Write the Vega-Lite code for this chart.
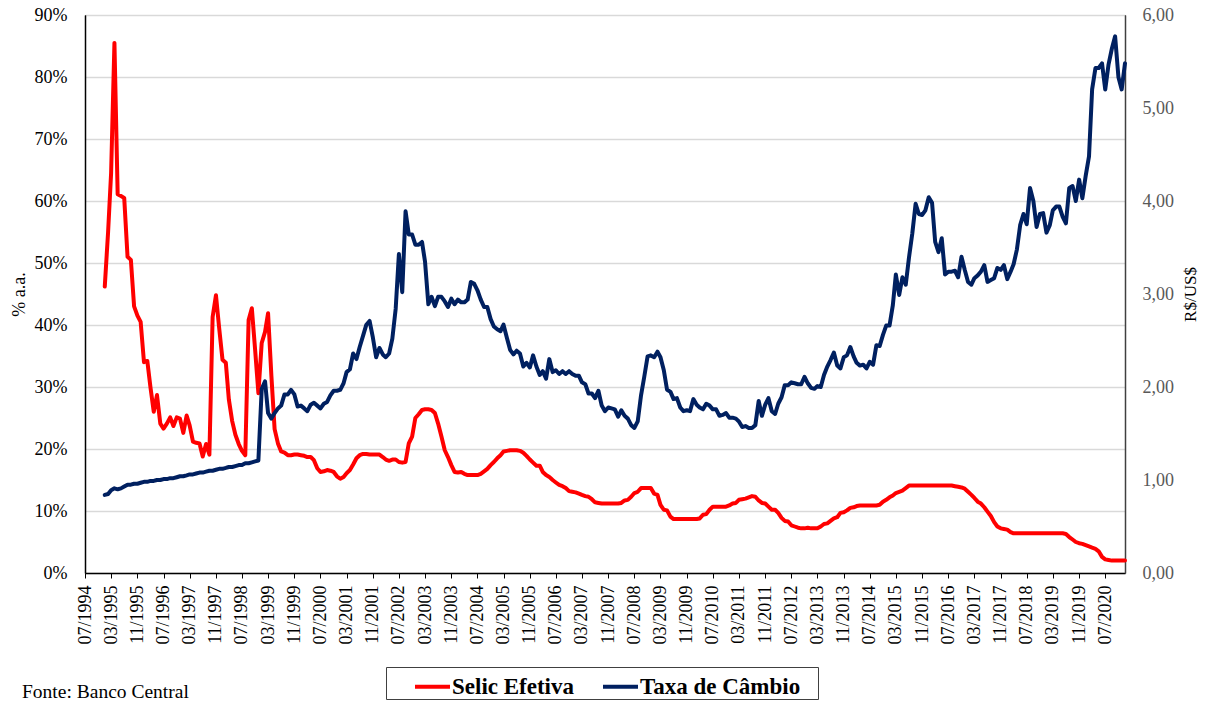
{
  "$schema": "https://vega.github.io/schema/vega-lite/v6.json",
  "autosize": {"type": "none"},
  "width": 1040,
  "height": 558,
  "padding": {"left": 85, "top": 15, "right": 84, "bottom": 131},
  "background": "#ffffff",
  "title": {"text": "Fonte: Banco Central", "orient": "bottom", "anchor": "start", "dx": 12, "offset": -17, "font": "Liberation Serif", "fontSize": 19.5, "fontWeight": "normal", "color": "#000000"},
  "config": {
    "view": {"stroke": "#000000", "strokeWidth": 1},
    "font": "Liberation Serif"
  },
  "data": {"values": [
{"d":"1995-01-01","s":46.2,"c":0.84},{"d":"1995-02-01","s":55,"c":0.85},{"d":"1995-03-01","s":64.5,"c":0.89},{"d":"1995-04-01","s":85.5,"c":0.91},{"d":"1995-05-01","s":61.1,"c":0.90},{"d":"1995-06-01","s":60.8,"c":0.91},{"d":"1995-07-01","s":60.5,"c":0.93},{"d":"1995-08-01","s":51,"c":0.95},{"d":"1995-09-01","s":50.5,"c":0.95},{"d":"1995-10-01","s":43,"c":0.96},{"d":"1995-11-01","s":41.5,"c":0.96},{"d":"1995-12-01","s":40.5,"c":0.97},
{"d":"1996-01-01","s":34,"c":0.98},{"d":"1996-02-01","s":34.2,"c":0.98},{"d":"1996-03-01","s":30,"c":0.99},{"d":"1996-04-01","s":26,"c":0.99},{"d":"1996-05-01","s":28.7,"c":1.00},{"d":"1996-06-01","s":24.1,"c":1.00},{"d":"1996-07-01","s":23.3,"c":1.01},{"d":"1996-08-01","s":24.1,"c":1.01},{"d":"1996-09-01","s":25.1,"c":1.02},{"d":"1996-10-01","s":23.7,"c":1.02},{"d":"1996-11-01","s":25.1,"c":1.03},{"d":"1996-12-01","s":24.9,"c":1.04},
{"d":"1997-01-01","s":22.6,"c":1.04},{"d":"1997-02-01","s":25.4,"c":1.05},{"d":"1997-03-01","s":23.8,"c":1.06},{"d":"1997-04-01","s":21.2,"c":1.06},{"d":"1997-05-01","s":21,"c":1.07},{"d":"1997-06-01","s":20.9,"c":1.08},{"d":"1997-07-01","s":18.8,"c":1.08},{"d":"1997-08-01","s":20.8,"c":1.09},{"d":"1997-09-01","s":19.1,"c":1.10},{"d":"1997-10-01","s":41.3,"c":1.10},{"d":"1997-11-01","s":44.8,"c":1.11},{"d":"1997-12-01","s":39.5,"c":1.12},
{"d":"1998-01-01","s":34.4,"c":1.12},{"d":"1998-02-01","s":33.9,"c":1.13},{"d":"1998-03-01","s":28,"c":1.14},{"d":"1998-04-01","s":24.5,"c":1.14},{"d":"1998-05-01","s":22.3,"c":1.15},{"d":"1998-06-01","s":20.8,"c":1.16},{"d":"1998-07-01","s":19.7,"c":1.16},{"d":"1998-08-01","s":19,"c":1.18},{"d":"1998-09-01","s":40.8,"c":1.18},{"d":"1998-10-01","s":42.7,"c":1.19},{"d":"1998-11-01","s":35.9,"c":1.20},{"d":"1998-12-01","s":29,"c":1.21},
{"d":"1999-01-01","s":37.1,"c":1.98},{"d":"1999-02-01","s":38.9,"c":2.06},{"d":"1999-03-01","s":41.9,"c":1.72},{"d":"1999-04-01","s":31.8,"c":1.66},{"d":"1999-05-01","s":23.2,"c":1.72},{"d":"1999-06-01","s":20.9,"c":1.77},{"d":"1999-07-01","s":19.6,"c":1.80},{"d":"1999-08-01","s":19.4,"c":1.92},{"d":"1999-09-01","s":19,"c":1.92},{"d":"1999-10-01","s":19,"c":1.97},{"d":"1999-11-01","s":19.1,"c":1.92},{"d":"1999-12-01","s":19.1,"c":1.79},
{"d":"2000-01-01","s":19,"c":1.80},{"d":"2000-02-01","s":18.9,"c":1.77},{"d":"2000-03-01","s":18.7,"c":1.74},{"d":"2000-04-01","s":18.7,"c":1.81},{"d":"2000-05-01","s":18.2,"c":1.83},{"d":"2000-06-01","s":16.9,"c":1.80},{"d":"2000-07-01","s":16.3,"c":1.77},{"d":"2000-08-01","s":16.4,"c":1.82},{"d":"2000-09-01","s":16.6,"c":1.84},{"d":"2000-10-01","s":16.5,"c":1.91},{"d":"2000-11-01","s":16.3,"c":1.96},{"d":"2000-12-01","s":15.6,"c":1.96},
{"d":"2001-01-01","s":15.2,"c":1.97},{"d":"2001-02-01","s":15.5,"c":2.04},{"d":"2001-03-01","s":16.1,"c":2.16},{"d":"2001-04-01","s":16.6,"c":2.19},{"d":"2001-05-01","s":17.5,"c":2.36},{"d":"2001-06-01","s":18.5,"c":2.30},{"d":"2001-07-01","s":19,"c":2.43},{"d":"2001-08-01","s":19.2,"c":2.55},{"d":"2001-09-01","s":19.2,"c":2.67},{"d":"2001-10-01","s":19.1,"c":2.71},{"d":"2001-11-01","s":19.1,"c":2.53},{"d":"2001-12-01","s":19.1,"c":2.32},
{"d":"2002-01-01","s":19.1,"c":2.42},{"d":"2002-02-01","s":18.7,"c":2.35},{"d":"2002-03-01","s":18.3,"c":2.32},{"d":"2002-04-01","s":18.1,"c":2.36},{"d":"2002-05-01","s":18.3,"c":2.52},{"d":"2002-06-01","s":18.3,"c":2.84},{"d":"2002-07-01","s":17.9,"c":3.43},{"d":"2002-08-01","s":17.8,"c":3.02},{"d":"2002-09-01","s":17.9,"c":3.89},{"d":"2002-10-01","s":20.9,"c":3.64},{"d":"2002-11-01","s":22,"c":3.64},{"d":"2002-12-01","s":25,"c":3.53},
{"d":"2003-01-01","s":25.6,"c":3.53},{"d":"2003-02-01","s":26.3,"c":3.56},{"d":"2003-03-01","s":26.4,"c":3.35},{"d":"2003-04-01","s":26.4,"c":2.89},{"d":"2003-05-01","s":26.3,"c":2.97},{"d":"2003-06-01","s":25.8,"c":2.87},{"d":"2003-07-01","s":24.1,"c":2.97},{"d":"2003-08-01","s":22,"c":2.97},{"d":"2003-09-01","s":19.8,"c":2.92},{"d":"2003-10-01","s":18.7,"c":2.86},{"d":"2003-11-01","s":17.4,"c":2.95},{"d":"2003-12-01","s":16.3,"c":2.89},
{"d":"2004-01-01","s":16.2,"c":2.94},{"d":"2004-02-01","s":16.3,"c":2.91},{"d":"2004-03-01","s":16,"c":2.91},{"d":"2004-04-01","s":15.8,"c":2.94},{"d":"2004-05-01","s":15.8,"c":3.13},{"d":"2004-06-01","s":15.8,"c":3.11},{"d":"2004-07-01","s":15.8,"c":3.04},{"d":"2004-08-01","s":16,"c":2.94},{"d":"2004-09-01","s":16.4,"c":2.86},{"d":"2004-10-01","s":16.8,"c":2.86},{"d":"2004-11-01","s":17.4,"c":2.73},{"d":"2004-12-01","s":17.9,"c":2.65},
{"d":"2005-01-01","s":18.5,"c":2.62},{"d":"2005-02-01","s":19,"c":2.60},{"d":"2005-03-01","s":19.6,"c":2.67},{"d":"2005-04-01","s":19.7,"c":2.53},{"d":"2005-05-01","s":19.8,"c":2.40},{"d":"2005-06-01","s":19.8,"c":2.35},{"d":"2005-07-01","s":19.8,"c":2.39},{"d":"2005-08-01","s":19.7,"c":2.36},{"d":"2005-09-01","s":19.4,"c":2.22},{"d":"2005-10-01","s":18.9,"c":2.26},{"d":"2005-11-01","s":18.3,"c":2.21},{"d":"2005-12-01","s":17.8,"c":2.34},
{"d":"2006-01-01","s":17.3,"c":2.22},{"d":"2006-02-01","s":17.3,"c":2.13},{"d":"2006-03-01","s":16.3,"c":2.17},{"d":"2006-04-01","s":15.8,"c":2.09},{"d":"2006-05-01","s":15.5,"c":2.30},{"d":"2006-06-01","s":15,"c":2.16},{"d":"2006-07-01","s":14.6,"c":2.18},{"d":"2006-08-01","s":14.2,"c":2.14},{"d":"2006-09-01","s":14,"c":2.17},{"d":"2006-10-01","s":13.7,"c":2.14},{"d":"2006-11-01","s":13.2,"c":2.17},{"d":"2006-12-01","s":13.1,"c":2.14},
{"d":"2007-01-01","s":13,"c":2.12},{"d":"2007-02-01","s":12.8,"c":2.12},{"d":"2007-03-01","s":12.6,"c":2.05},{"d":"2007-04-01","s":12.4,"c":2.03},{"d":"2007-05-01","s":12.3,"c":1.93},{"d":"2007-06-01","s":11.9,"c":1.93},{"d":"2007-07-01","s":11.4,"c":1.88},{"d":"2007-08-01","s":11.3,"c":1.96},{"d":"2007-09-01","s":11.2,"c":1.80},{"d":"2007-10-01","s":11.2,"c":1.74},{"d":"2007-11-01","s":11.2,"c":1.78},{"d":"2007-12-01","s":11.2,"c":1.77},
{"d":"2008-01-01","s":11.2,"c":1.76},{"d":"2008-02-01","s":11.2,"c":1.68},{"d":"2008-03-01","s":11.3,"c":1.75},{"d":"2008-04-01","s":11.7,"c":1.69},{"d":"2008-05-01","s":11.8,"c":1.66},{"d":"2008-06-01","s":12.3,"c":1.59},{"d":"2008-07-01","s":12.9,"c":1.56},{"d":"2008-08-01","s":13.1,"c":1.63},{"d":"2008-09-01","s":13.7,"c":1.91},{"d":"2008-10-01","s":13.7,"c":2.11},{"d":"2008-11-01","s":13.7,"c":2.33},{"d":"2008-12-01","s":13.7,"c":2.34},
{"d":"2009-01-01","s":12.8,"c":2.32},{"d":"2009-02-01","s":12.6,"c":2.38},{"d":"2009-03-01","s":11,"c":2.32},{"d":"2009-04-01","s":10.2,"c":2.18},{"d":"2009-05-01","s":10.1,"c":1.97},{"d":"2009-06-01","s":9.1,"c":1.95},{"d":"2009-07-01","s":8.7,"c":1.87},{"d":"2009-08-01","s":8.7,"c":1.88},{"d":"2009-09-01","s":8.7,"c":1.78},{"d":"2009-10-01","s":8.7,"c":1.74},{"d":"2009-11-01","s":8.7,"c":1.75},{"d":"2009-12-01","s":8.7,"c":1.74},
{"d":"2010-01-01","s":8.7,"c":1.87},{"d":"2010-02-01","s":8.7,"c":1.81},{"d":"2010-03-01","s":8.8,"c":1.78},{"d":"2010-04-01","s":9.4,"c":1.76},{"d":"2010-05-01","s":9.5,"c":1.82},{"d":"2010-06-01","s":10.2,"c":1.80},{"d":"2010-07-01","s":10.7,"c":1.76},{"d":"2010-08-01","s":10.7,"c":1.76},{"d":"2010-09-01","s":10.7,"c":1.69},{"d":"2010-10-01","s":10.7,"c":1.70},{"d":"2010-11-01","s":10.7,"c":1.72},{"d":"2010-12-01","s":10.9,"c":1.67},
{"d":"2011-01-01","s":11.2,"c":1.67},{"d":"2011-02-01","s":11.3,"c":1.66},{"d":"2011-03-01","s":11.8,"c":1.63},{"d":"2011-04-01","s":11.9,"c":1.57},{"d":"2011-05-01","s":12,"c":1.58},{"d":"2011-06-01","s":12.2,"c":1.56},{"d":"2011-07-01","s":12.4,"c":1.56},{"d":"2011-08-01","s":12.3,"c":1.59},{"d":"2011-09-01","s":11.7,"c":1.85},{"d":"2011-10-01","s":11.3,"c":1.69},{"d":"2011-11-01","s":11.2,"c":1.81},{"d":"2011-12-01","s":10.7,"c":1.88},
{"d":"2012-01-01","s":10.2,"c":1.74},{"d":"2012-02-01","s":10.2,"c":1.71},{"d":"2012-03-01","s":9.7,"c":1.82},{"d":"2012-04-01","s":8.9,"c":1.89},{"d":"2012-05-01","s":8.4,"c":2.02},{"d":"2012-06-01","s":8.3,"c":2.02},{"d":"2012-07-01","s":7.7,"c":2.05},{"d":"2012-08-01","s":7.5,"c":2.04},{"d":"2012-09-01","s":7.3,"c":2.03},{"d":"2012-10-01","s":7.2,"c":2.03},{"d":"2012-11-01","s":7.2,"c":2.11},{"d":"2012-12-01","s":7.3,"c":2.04},
{"d":"2013-01-01","s":7.2,"c":1.99},{"d":"2013-02-01","s":7.2,"c":1.98},{"d":"2013-03-01","s":7.2,"c":2.01},{"d":"2013-04-01","s":7.5,"c":2.00},{"d":"2013-05-01","s":7.9,"c":2.13},{"d":"2013-06-01","s":8,"c":2.22},{"d":"2013-07-01","s":8.4,"c":2.29},{"d":"2013-08-01","s":8.8,"c":2.37},{"d":"2013-09-01","s":9,"c":2.23},{"d":"2013-10-01","s":9.7,"c":2.20},{"d":"2013-11-01","s":9.8,"c":2.32},{"d":"2013-12-01","s":10.1,"c":2.34},
{"d":"2014-01-01","s":10.5,"c":2.43},{"d":"2014-02-01","s":10.6,"c":2.33},{"d":"2014-03-01","s":10.8,"c":2.26},{"d":"2014-04-01","s":10.9,"c":2.23},{"d":"2014-05-01","s":10.9,"c":2.24},{"d":"2014-06-01","s":10.9,"c":2.20},{"d":"2014-07-01","s":10.9,"c":2.27},{"d":"2014-08-01","s":10.9,"c":2.24},{"d":"2014-09-01","s":10.9,"c":2.45},{"d":"2014-10-01","s":11,"c":2.44},{"d":"2014-11-01","s":11.5,"c":2.56},{"d":"2014-12-01","s":11.8,"c":2.66},
{"d":"2015-01-01","s":12.2,"c":2.66},{"d":"2015-02-01","s":12.5,"c":2.88},{"d":"2015-03-01","s":12.9,"c":3.21},{"d":"2015-04-01","s":13.1,"c":2.99},{"d":"2015-05-01","s":13.3,"c":3.18},{"d":"2015-06-01","s":13.7,"c":3.10},{"d":"2015-07-01","s":14.1,"c":3.39},{"d":"2015-08-01","s":14.1,"c":3.65},{"d":"2015-09-01","s":14.1,"c":3.97},{"d":"2015-10-01","s":14.1,"c":3.86},{"d":"2015-11-01","s":14.1,"c":3.85},{"d":"2015-12-01","s":14.1,"c":3.90},
{"d":"2016-01-01","s":14.1,"c":4.04},{"d":"2016-02-01","s":14.1,"c":3.98},{"d":"2016-03-01","s":14.1,"c":3.56},{"d":"2016-04-01","s":14.1,"c":3.45},{"d":"2016-05-01","s":14.1,"c":3.60},{"d":"2016-06-01","s":14.1,"c":3.21},{"d":"2016-07-01","s":14.1,"c":3.24},{"d":"2016-08-01","s":14.1,"c":3.24},{"d":"2016-09-01","s":14.0,"c":3.25},{"d":"2016-10-01","s":13.9,"c":3.18},{"d":"2016-11-01","s":13.8,"c":3.40},{"d":"2016-12-01","s":13.6,"c":3.26},
{"d":"2017-01-01","s":13.1,"c":3.13},{"d":"2017-02-01","s":12.6,"c":3.10},{"d":"2017-03-01","s":12.1,"c":3.17},{"d":"2017-04-01","s":11.5,"c":3.20},{"d":"2017-05-01","s":11.2,"c":3.24},{"d":"2017-06-01","s":10.6,"c":3.31},{"d":"2017-07-01","s":9.9,"c":3.13},{"d":"2017-08-01","s":9.2,"c":3.15},{"d":"2017-09-01","s":8.2,"c":3.17},{"d":"2017-10-01","s":7.5,"c":3.28},{"d":"2017-11-01","s":7.2,"c":3.26},{"d":"2017-12-01","s":7.1,"c":3.31},
{"d":"2018-01-01","s":7.0,"c":3.16},{"d":"2018-02-01","s":6.6,"c":3.24},{"d":"2018-03-01","s":6.4,"c":3.32},{"d":"2018-04-01","s":6.4,"c":3.48},{"d":"2018-05-01","s":6.4,"c":3.74},{"d":"2018-06-01","s":6.4,"c":3.86},{"d":"2018-07-01","s":6.4,"c":3.75},{"d":"2018-08-01","s":6.4,"c":4.14},{"d":"2018-09-01","s":6.4,"c":4.00},{"d":"2018-10-01","s":6.4,"c":3.72},{"d":"2018-11-01","s":6.4,"c":3.86},{"d":"2018-12-01","s":6.4,"c":3.87},
{"d":"2019-01-01","s":6.4,"c":3.66},{"d":"2019-02-01","s":6.4,"c":3.74},{"d":"2019-03-01","s":6.4,"c":3.90},{"d":"2019-04-01","s":6.4,"c":3.94},{"d":"2019-05-01","s":6.4,"c":3.94},{"d":"2019-06-01","s":6.4,"c":3.83},{"d":"2019-07-01","s":6.3,"c":3.76},{"d":"2019-08-01","s":5.8,"c":4.14},{"d":"2019-09-01","s":5.4,"c":4.16},{"d":"2019-10-01","s":5.0,"c":4.00},{"d":"2019-11-01","s":4.8,"c":4.23},{"d":"2019-12-01","s":4.7,"c":4.03},
{"d":"2020-01-01","s":4.5,"c":4.27},{"d":"2020-02-01","s":4.3,"c":4.48},{"d":"2020-03-01","s":4.1,"c":5.20},{"d":"2020-04-01","s":3.9,"c":5.43},{"d":"2020-05-01","s":3.5,"c":5.43},{"d":"2020-06-01","s":2.6,"c":5.48},{"d":"2020-07-01","s":2.2,"c":5.20},{"d":"2020-08-01","s":2.1,"c":5.47},{"d":"2020-09-01","s":2.0,"c":5.64},{"d":"2020-10-01","s":2.0,"c":5.77},{"d":"2020-11-01","s":2.0,"c":5.33},{"d":"2020-12-01","s":2.0,"c":5.20},
{"d":"2021-01-01","s":2.0,"c":5.48}
  ]},
  "encoding": {
    "x": {
      "field": "d", "type": "temporal",
      "scale": {"type": "utc", "domain": [{"year": 1994, "month": 7, "date": 1, "utc": true}, {"year": 2021, "month": 1, "date": 1, "utc": true}]},
      "axis": {
        "title": null, "format": "%m/%Y", "labelAngle": -90, "labelFont": "Liberation Serif", "labelFontSize": 18, "labelColor": "#000000",
        "labelPadding": 7, "tickSize": 5, "tickColor": "#000000", "domainColor": "#000000", "domainWidth": 1.5, "grid": false,
        "labelOverlap": false, "labelFlush": false,
        "values": [
          {"year":1994,"month":7,"date":1,"utc":true},{"year":1995,"month":3,"date":1,"utc":true},{"year":1995,"month":11,"date":1,"utc":true},
          {"year":1996,"month":7,"date":1,"utc":true},{"year":1997,"month":3,"date":1,"utc":true},{"year":1997,"month":11,"date":1,"utc":true},
          {"year":1998,"month":7,"date":1,"utc":true},{"year":1999,"month":3,"date":1,"utc":true},{"year":1999,"month":11,"date":1,"utc":true},
          {"year":2000,"month":7,"date":1,"utc":true},{"year":2001,"month":3,"date":1,"utc":true},{"year":2001,"month":11,"date":1,"utc":true},
          {"year":2002,"month":7,"date":1,"utc":true},{"year":2003,"month":3,"date":1,"utc":true},{"year":2003,"month":11,"date":1,"utc":true},
          {"year":2004,"month":7,"date":1,"utc":true},{"year":2005,"month":3,"date":1,"utc":true},{"year":2005,"month":11,"date":1,"utc":true},
          {"year":2006,"month":7,"date":1,"utc":true},{"year":2007,"month":3,"date":1,"utc":true},{"year":2007,"month":11,"date":1,"utc":true},
          {"year":2008,"month":7,"date":1,"utc":true},{"year":2009,"month":3,"date":1,"utc":true},{"year":2009,"month":11,"date":1,"utc":true},
          {"year":2010,"month":7,"date":1,"utc":true},{"year":2011,"month":3,"date":1,"utc":true},{"year":2011,"month":11,"date":1,"utc":true},
          {"year":2012,"month":7,"date":1,"utc":true},{"year":2013,"month":3,"date":1,"utc":true},{"year":2013,"month":11,"date":1,"utc":true},
          {"year":2014,"month":7,"date":1,"utc":true},{"year":2015,"month":3,"date":1,"utc":true},{"year":2015,"month":11,"date":1,"utc":true},
          {"year":2016,"month":7,"date":1,"utc":true},{"year":2017,"month":3,"date":1,"utc":true},{"year":2017,"month":11,"date":1,"utc":true},
          {"year":2018,"month":7,"date":1,"utc":true},{"year":2019,"month":3,"date":1,"utc":true},{"year":2019,"month":11,"date":1,"utc":true},
          {"year":2020,"month":7,"date":1,"utc":true}
        ]
      }
    }
  },
  "layer": [
    {
      "mark": {"type": "line", "strokeWidth": 4, "strokeJoin": "round", "strokeCap": "round"},
      "encoding": {
        "y": {
          "field": "s", "type": "quantitative",
          "scale": {"domain": [0, 90], "nice": false, "zero": true},
          "axis": {
            "title": "% a.a.", "titleFont": "Liberation Serif", "titleFontSize": 18, "titleFontWeight": "normal", "titleColor": "#000000", "titlePadding": 6,
            "values": [0, 10, 20, 30, 40, 50, 60, 70, 80, 90], "labelExpr": "datum.value + '%'",
            "labelFont": "Liberation Serif", "labelFontSize": 18, "labelColor": "#000000", "labelPadding": 18, "ticks": false,
            "domainColor": "#000000", "domainWidth": 1.5, "grid": true, "gridColor": "#d9d9d9", "gridWidth": 1.5
          }
        },
        "color": {
          "datum": "Selic Efetiva", "type": "nominal",
          "scale": {"domain": ["Selic Efetiva", "Taxa de Câmbio"], "range": ["#ff0000", "#002060"]},
          "legend": {
            "orient": "none", "legendX": 301, "legendY": 652, "direction": "horizontal",
            "title": "\u00a0", "titleOrient": "right", "titlePadding": 18, "titleFontSize": 10,
            "strokeColor": "#404040", "padding": 0, "symbolOffset": 27, "labelOffset": 0, "columnPadding": 0,
            "labelFont": "Liberation Serif", "labelFontSize": 23, "labelFontWeight": "bold", "labelColor": "#000000", "labelLimit": 400,
            "symbolType": "stroke", "symbolSize": 1225, "symbolStrokeWidth": 4
          }
        }
      }
    },
    {
      "mark": {"type": "line", "strokeWidth": 4, "strokeJoin": "round", "strokeCap": "round"},
      "encoding": {
        "y": {
          "field": "c", "type": "quantitative",
          "scale": {"domain": [0, 6], "nice": false, "zero": true},
          "axis": {
            "orient": "right", "title": "R$/US$", "titleFont": "Liberation Serif", "titleFontSize": 17, "titleFontWeight": "normal", "titleColor": "#000000", "titleAngle": 270, "titlePadding": 26,
            "values": [0, 1, 2, 3, 4, 5, 6], "labelExpr": "replace(format(datum.value, '.2f'), '.', ',')",
            "labelFont": "Liberation Serif", "labelFontSize": 18, "labelColor": "#595959", "labelPadding": 17, "ticks": false,
            "domainColor": "#404040", "domainWidth": 1.5, "grid": false
          }
        },
        "color": {"datum": "Taxa de Câmbio", "type": "nominal"}
      }
    }
  ],
  "resolve": {"scale": {"y": "independent"}}
}
